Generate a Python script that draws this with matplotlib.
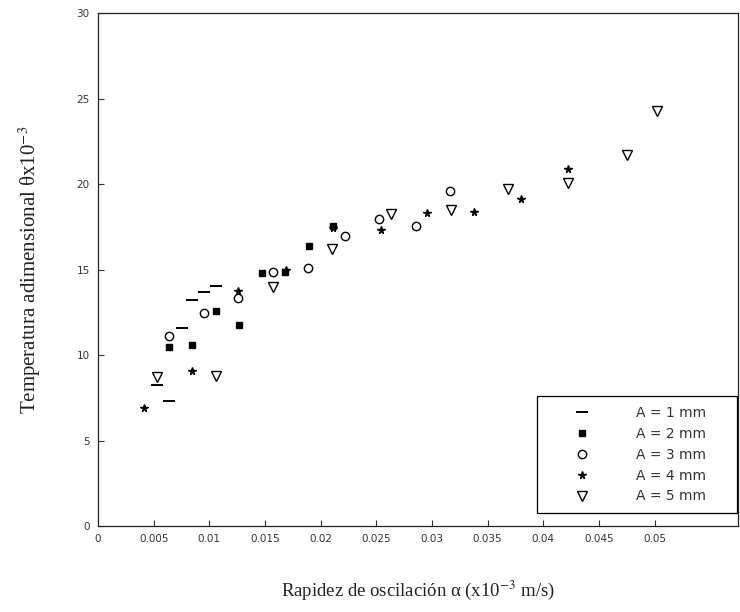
import matplotlib
matplotlib.use("Agg")
import matplotlib.pyplot as plt

plt.rcParams["mathtext.fontset"] = "stix"

# datos (rapidez vs temperatura adimensional)
x_a1 = [0.00532, 0.00637, 0.00751, 0.00841, 0.00952, 0.01057]
y_a1 = [8.26, 7.34, 11.58, 13.20, 13.67, 14.03]

x_a2 = [0.00637, 0.00841, 0.01059, 0.01266, 0.01469, 0.01679, 0.01897, 0.02112]
y_a2 = [10.49, 10.56, 12.60, 11.78, 14.82, 14.88, 16.36, 17.57]

x_a3 = [0.00639, 0.00952, 0.01260, 0.01571, 0.01888, 0.02217, 0.02524, 0.02855, 0.03166]
y_a3 = [11.13, 12.46, 13.34, 14.87, 15.10, 16.95, 17.98, 17.57, 19.62]

x_a4 = [0.00413, 0.00846, 0.01260, 0.01685, 0.02112, 0.02540, 0.02956, 0.03378, 0.03797, 0.04222]
y_a4 = [6.93, 9.04, 13.74, 14.95, 17.45, 17.30, 18.32, 18.35, 19.14, 20.90]

x_a5 = [0.00532, 0.01059, 0.01571, 0.02098, 0.02636, 0.03169, 0.03683, 0.04222, 0.04755, 0.05018]
y_a5 = [8.71, 8.79, 14.00, 16.21, 18.26, 18.51, 19.72, 20.08, 21.68, 24.25]

xticks = [0, 0.005, 0.01, 0.015, 0.02, 0.025, 0.03, 0.035, 0.04, 0.045, 0.05]
xtick_labels = ["0", "0.005", "0.01", "0.015", "0.02", "0.025", "0.03", "0.035", "0.04", "0.045", "0.05"]
yticks = [0, 5, 10, 15, 20, 25, 30]

fig = plt.figure(figsize=(7.4, 6.12), dpi=100)
ax = fig.add_axes([0.1324, 0.1405, 0.865, 0.838])

ax.plot(x_a1, y_a1, linestyle="none", marker="_", markersize=8, markeredgewidth=1.4,
        color="black", label="A = 1 mm")
ax.plot(x_a2, y_a2, linestyle="none", marker="s", markersize=4,
        color="black", label="A = 2 mm")
ax.plot(x_a3, y_a3, linestyle="none", marker="o", markersize=6, markerfacecolor="none",
        markeredgewidth=1.0, color="black", label="A = 3 mm")
ax.plot(x_a4, y_a4, linestyle="none", marker="*", markersize=5.5,
        color="black", label="A = 4 mm")
ax.plot(x_a5, y_a5, linestyle="none", marker="v", markersize=7, markerfacecolor="none",
        markeredgewidth=1.0, color="black", label="A = 5 mm")

ax.set_xlim(0, 0.0575)
ax.set_ylim(0, 30)
ax.set_xticks(xticks)
ax.set_xticklabels(xtick_labels)
ax.set_yticks(yticks)
ax.tick_params(direction="in", length=4, width=0.8, labelsize=7.5, colors="#333333",
               top=False, right=False, pad=6)
for s in ax.spines.values():
    s.set_linewidth(0.9)
    s.set_color("#222222")

ax.set_xlabel("Rapidez de oscilación α (x10$^{-3}$ m/s)",
              family="Liberation Serif", fontsize=13.5, labelpad=25, color="#222222")
ax.set_ylabel("Temperatura adimensional θx10$^{-3}$",
              family="Liberation Serif", fontsize=15, labelpad=24, color="#222222")

# leyenda ancha, como en el original
leg = ax.legend(loc="lower left", bbox_to_anchor=(0.686, 0.025, 0.3125, 0.2), mode="expand",
                fontsize=10, frameon=True, fancybox=False, edgecolor="black", framealpha=1,
                handletextpad=1.4, labelspacing=0.5, borderpad=0.7, handlelength=5.0,
                borderaxespad=0.0)
leg.get_frame().set_linewidth(0.9)
for t in leg.get_texts():
    t.set_color("#333333")

fig.savefig("out.png", dpi=100)
